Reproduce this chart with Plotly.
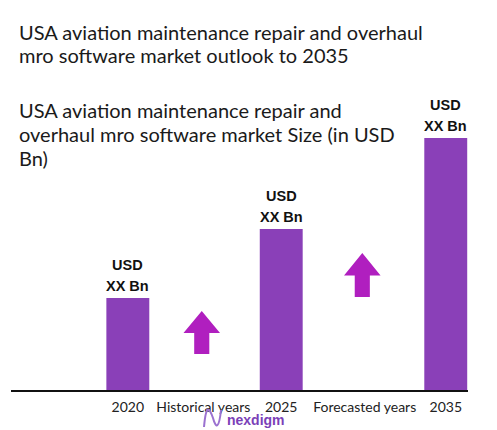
import plotly.graph_objects as go

# ---- data ----
tick_labels = ["2020", "Historical years", "2025", "Forecasted years", "2035"]
tick_positions = [0, 0.95, 1.93, 2.98, 4]
bar_labels = ["2020", "2025", "2035"]
bar_values = [92, 161, 252]        # relative market size
label_top = ["USD", "USD", "USD"]
label_bottom = ["XX Bn", "XX Bn", "XX Bn"]
arrow_positions = [0.93, 2.95]     # growth arrows between the bars
arrow_base = [36, 93]
arrow_tip = [79, 137]

BAR_COLOR = "#8A40B8"
ARROW_COLOR = "#B01FBF"
FONT = "Lato"

bar_positions = [tick_positions[tick_labels.index(b)] for b in bar_labels]

# page body has an 8px margin; figure sized to fit the 497x430 window
OFF = 8
W, H = 497 - OFF, 430 - OFF
ML, MR, MT, MB = 11 - OFF, 29, 130 - OFF, 40
PW, PH = W - ML - MR, H - MT - MB
YMAX = 260

fig = go.Figure()

fig.add_trace(go.Bar(
    x=bar_positions, y=bar_values, width=0.54,
    marker=dict(color=BAR_COLOR, line=dict(width=0)),
    cliponaxis=False, hoverinfo="skip",
))

# growth arrows
for xc, yb, yt in zip(arrow_positions, arrow_base, arrow_tip):
    hw, sw = 0.23, 0.095
    hb = yt - (yt - yb) * 0.51
    xs = [xc - sw, xc - sw, xc - hw, xc, xc + hw, xc + sw, xc + sw, xc - sw]
    ys = [yb, hb, hb, yt, hb, hb, yb, yb]
    fig.add_trace(go.Scatter(x=xs, y=ys, fill="toself", fillcolor=ARROW_COLOR,
                             mode="lines", line=dict(width=0, color=ARROW_COLOR),
                             hoverinfo="skip", showlegend=False))

def px(xp):
    return (xp - OFF - ML) / PW

def py(yp):
    return (H - MB - (yp - OFF)) / PH

txt_font = dict(family=FONT, size=20, color="#1a1a1a")
lines = [
    ("USA aviation maintenance repair and overhaul", 32),
    ("mro software market outlook to 2035", 55),
    ("USA aviation maintenance repair and", 110),
    ("overhaul mro software market Size (in USD", 134),
    ("Bn)", 158),
]
annotations = []
for t, yy in lines:
    annotations.append(dict(text=t, x=px(17), y=py(yy), xref="paper", yref="paper",
                            xanchor="left", yanchor="middle", align="left",
                            showarrow=False, font=txt_font))

lab_font = dict(family="Liberation Sans", size=14.5, color="#111111", weight="bold")
for xb, v, t1, t2 in zip(bar_positions, bar_values, label_top, label_bottom):
    annotations.append(dict(text=t2, x=xb, y=v, xref="x", yref="y", yanchor="middle",
                            yshift=12, showarrow=False, font=lab_font))
    annotations.append(dict(text=t1, x=xb, y=v, xref="x", yref="y", yanchor="middle",
                            yshift=33, showarrow=False, font=lab_font))

annotations.append(dict(text="<b>nexdigm</b>", x=px(225), y=py(420), xref="paper", yref="paper",
                        xanchor="left", yanchor="middle", showarrow=False,
                        font=dict(family="Liberation Sans", size=14, color="#7B3FB8")))

# small wave logo
def P(x, y):
    return f"{px(x):.5f},{py(y):.5f}"
logo_path = (f"M {P(204,427)} C {P(206,404)} {P(209,407)} {P(213,418)} "
             f"C {P(216,429)} {P(219,429)} {P(221,410)}")
shapes = [dict(type="path", path=logo_path, xref="paper", yref="paper",
               line=dict(color="#9B72D0", width=2))]

fig.update_layout(
    width=W, height=H,
    margin=dict(l=ML, r=MR, t=MT, b=MB),
    paper_bgcolor="white", plot_bgcolor="white",
    showlegend=False,
    annotations=annotations, shapes=shapes,
    xaxis=dict(range=[-1.47, 4.28], tickvals=tick_positions, ticktext=tick_labels,
               showgrid=False, zeroline=False, showline=True, linecolor="#111111",
               linewidth=2, ticks="", ticklabelstandoff=3,
               tickfont=dict(family=FONT, size=14, color="#222222")),
    yaxis=dict(range=[0, YMAX], visible=False, showgrid=False, zeroline=False),
)

fig.write_html("out.html")
